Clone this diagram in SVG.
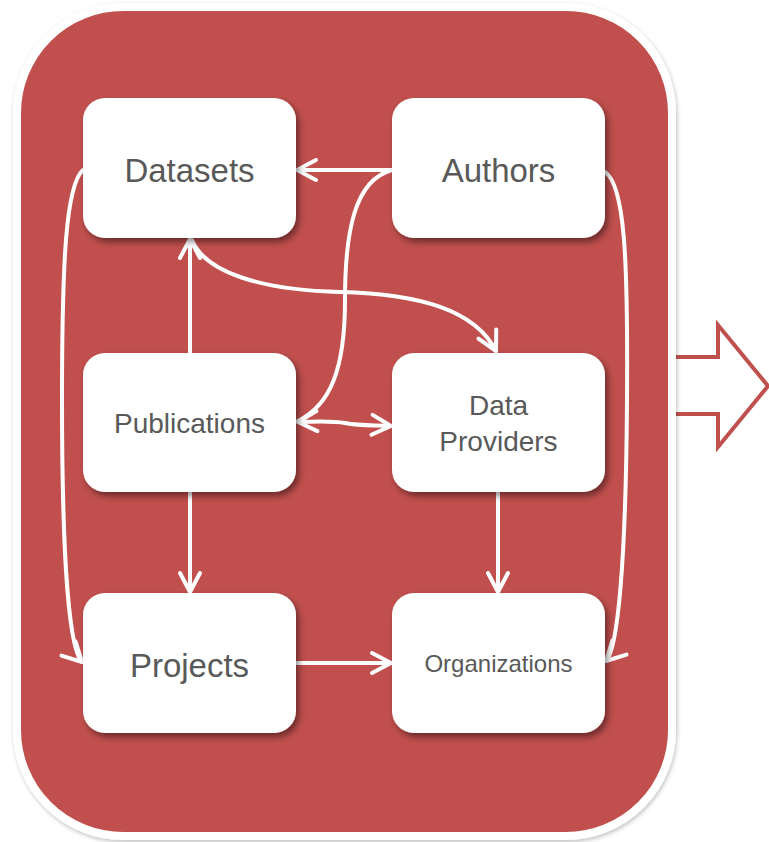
<svg xmlns="http://www.w3.org/2000/svg" width="769" height="842" viewBox="0 0 769 842">
<style>
.node rect{fill:#ffffff;filter:url(#nshadow)}
.node text{font-family:"Liberation Sans",Arial,sans-serif;fill:#595959;text-anchor:middle}
.conn path{fill:none;stroke:#ffffff;stroke-width:4;stroke-linecap:round;stroke-linejoin:round}
</style>
<defs>
<filter id="nshadow" x="-20%" y="-20%" width="140%" height="140%">
<feDropShadow dx="3" dy="4" stdDeviation="3" flood-color="#000000" flood-opacity="0.45"/>
</filter>
<filter id="cshadow" x="-5%" y="-5%" width="110%" height="110%">
<feDropShadow dx="1" dy="2" stdDeviation="2" flood-color="#000000" flood-opacity="0.25"/>
</filter>
<marker id="arr" markerUnits="userSpaceOnUse" markerWidth="30" markerHeight="30" refX="0" refY="0" viewBox="-24 -15 28 30" orient="auto-start-reverse" overflow="visible">
<path d="M-19,-10 L0,0 L-19,10" fill="none" stroke="#ffffff" stroke-width="4" stroke-linecap="round" stroke-linejoin="round"/>
</marker>
</defs>
<g id="bigarrow">
<polygon points="655,357 718,357 718,325 768,386 718,447 718,414 655,414" fill="#ffffff" stroke="#c0504d" stroke-width="4"/>
</g>
<g id="container">
<rect x="17" y="7" width="655" height="829" rx="106" ry="106" fill="#c0504d" stroke="#ffffff" stroke-width="8" filter="url(#cshadow)"/>
</g>
<g id="connectors" class="conn">
<path d="M392,170 L297,170" marker-end="url(#arr)"/>
<path d="M392,170 C355,180 345,230 345,300 C345,370 330,405 298,421"/>
<path d="M298,422 C320,421 335,421 345,423 C360,426 375,425 391,426" marker-start="url(#arr)" marker-end="url(#arr)"/>
<path d="M190,353 L190,239" marker-end="url(#arr)"/>
<path d="M192,240 C205,272 260,290 340,292 C420,294 475,310 496,351" marker-end="url(#arr)"/>
<path d="M190,492 L190,592" marker-end="url(#arr)"/>
<path d="M498,492 L498,592" marker-end="url(#arr)"/>
<path d="M296,663 L391,663" marker-end="url(#arr)"/>
<path d="M83,170 C66,185 62,260 62,400 C62,570 70,650 82,662" marker-end="url(#arr)"/>
<path d="M605,172 C625,185 628,260 627,400 C626,560 618,649 606,661" marker-end="url(#arr)"/>
</g>
<g id="datasets" class="node">
<rect x="83" y="98" width="213" height="140" rx="22"/>
<text x="189.5" y="182" font-size="33">Datasets</text>
</g>
<g id="authors" class="node">
<rect x="392" y="98" width="213" height="140" rx="22"/>
<text x="498.5" y="182" font-size="33">Authors</text>
</g>
<g id="publications" class="node">
<rect x="83" y="353" width="213" height="139" rx="22"/>
<text x="189.5" y="433" font-size="28">Publications</text>
</g>
<g id="dataproviders" class="node">
<rect x="392" y="353" width="213" height="139" rx="22"/>
<text x="498.5" y="415" font-size="28">Data</text>
<text x="498.5" y="451" font-size="28">Providers</text>
</g>
<g id="projects" class="node">
<rect x="83" y="593" width="213" height="140" rx="22"/>
<text x="189.5" y="677" font-size="33">Projects</text>
</g>
<g id="organizations" class="node">
<rect x="392" y="593" width="213" height="140" rx="22"/>
<text x="498.5" y="672" font-size="24">Organizations</text>
</g>
</svg>
